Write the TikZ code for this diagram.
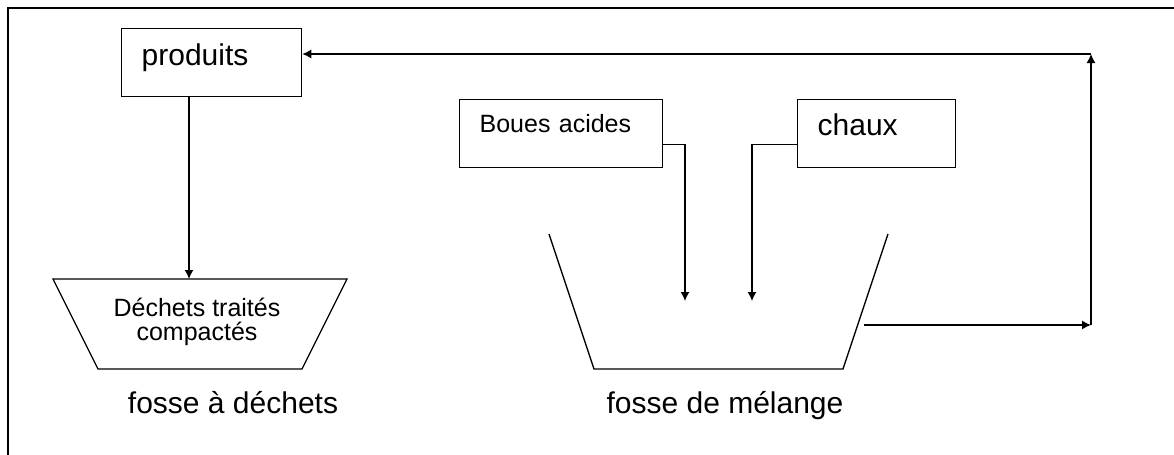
\documentclass[tikz,border=0pt]{standalone}
\usepackage{fontspec}
\setmainfont{Liberation Sans}
\usetikzlibrary{arrows.meta}
\tikzset{
  boite/.style={draw,line width=0.65pt,inner ysep=0pt,inner xsep=10pt,align=left,anchor=north west},
  fleche/.style={line width=0.65pt,-{Latex[length=4.5pt,width=4.5pt]}},
  grand/.style={font=\fontsize{15}{18}\selectfont},
  petit/.style={font=\fontsize{12.5}{12}\selectfont},
}
\begin{document}
\begin{tikzpicture}[x=0.5pt,y=-0.5pt,line join=miter]
\useasboundingbox(0,0)rectangle(1174,455);
\draw[line width=1pt](7.5,455)--(7.5,8)--(1174,8);
% boites du haut
\node[boite,grand,text width=70pt,text height=18.5pt,text depth=15.5pt](produits)at(121,28){produits};
\node[boite,petit,text width=81.5pt,text height=16.5pt,text depth=17.5pt](boues)at(459,99){Boues acides};
\node[boite,grand,text width=59pt,text height=18pt,text depth=16pt](chaux)at(797,99){chaux};
% fosse a dechets
\draw[line width=0.65pt](53,279)coordinate(dg)--(347,279)coordinate(dd)--(302,369)--(98,369)--cycle;
\node[petit,align=center](dechets)at(197,322){D\'echets trait\'es\\compact\'es};
\node[grand,anchor=base](fosse1)at(233,413){fosse \`a d\'echets};
% fosse de melange
\draw[line width=0.65pt](549,234)--(594,369)--(843,369)--(888,234);
\node[grand,anchor=base](fosse2)at(725,413){fosse de m\'elange};
% liaisons
\coordinate(p-in)at(189,279);
\coordinate(b-in)at(685,301);
\coordinate(c-in)at(752,301);
\coordinate(sortie)at(864,325);
\coordinate(bas)at(1091,325);
\coordinate(haut)at(1091,54);
\draw[fleche](produits.south-|p-in)--(p-in);
\draw[fleche]([yshift=-5.5pt]boues.east)-|(b-in);
\draw[fleche]([yshift=-5.5pt]chaux.west)-|(c-in);
\draw[fleche](sortie)--(bas);
\draw[fleche](bas)--(haut);
\draw[fleche](haut)--(produits.east|-haut);
\end{tikzpicture}
\end{document}
